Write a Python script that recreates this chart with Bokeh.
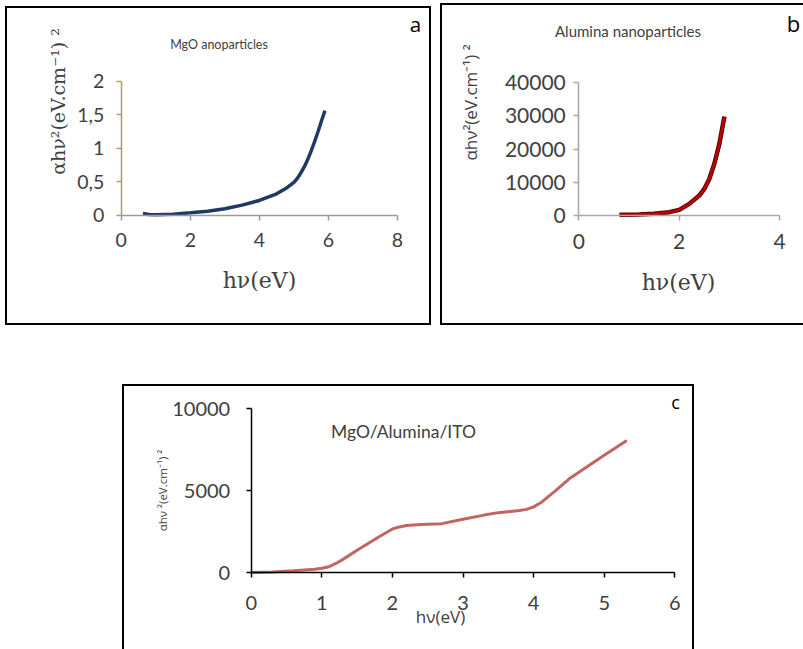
from math import pi

from bokeh.embed import file_html
from bokeh.layouts import column, row
from bokeh.models import FixedTicker, Label, Range1d
from bokeh.plotting import figure
from bokeh.resources import INLINE

# (a) MgO nanoparticles: (alpha h nu)^2 versus photon energy
mgo_x = [0.63, 0.8, 1.0, 1.5, 2.0, 2.5, 3.0, 3.5, 4.0, 4.5, 4.8, 5.0, 5.1, 5.2, 5.3, 5.4,
         5.5, 5.6, 5.7, 5.8, 5.9]
mgo_y = [0.025, 0.012, 0.008, 0.015, 0.035, 0.06, 0.095, 0.15, 0.22, 0.32, 0.41, 0.49, 0.55,
         0.63, 0.72, 0.83, 0.96, 1.1, 1.25, 1.41, 1.56]
mgo_xticks = [0, 2, 4, 6, 8]
mgo_yticks = [0, 0.5, 1, 1.5, 2]
mgo_ylabels = ["0", "0,5", "1", "1,5", "2"]

# (b) Alumina nanoparticles
alu_x = [0.81, 1.0, 1.2, 1.5, 1.8, 2.0, 2.2, 2.4, 2.5, 2.6, 2.7, 2.8, 2.9]
alu_y = [200, 220, 300, 500, 1000, 1700, 3500, 6000, 8000, 11000, 15600, 21600, 29800]
alu_xticks = [0, 2, 4]
alu_yticks = [0, 10000, 20000, 30000, 40000]

# (c) MgO/Alumina/ITO film
film_x = [0, 0.3, 0.6, 0.9, 1.0, 1.1, 1.2, 1.3, 1.5, 1.8, 2.0, 2.1, 2.2, 2.4, 2.7, 3.0,
          3.3, 3.5, 3.8, 3.9, 4.0, 4.1, 4.2, 4.3, 4.5, 5.0, 5.32]
film_y = [0, 30, 100, 200, 260, 350, 550, 800, 1360, 2150, 2650, 2780, 2860, 2920, 2980, 3250,
          3500, 3650, 3780, 3850, 4000, 4250, 4600, 4950, 5700, 7150, 8050]
film_xticks = [0, 1, 2, 3, 4, 5, 6]
film_yticks = [0, 5000, 10000]

SANS = "Open Sans"
DIGITS = "Lato"
SERIF = "DejaVu Serif"
INK = "#404040"
BOX = "2px solid black"


class Panel:
    """A bordered chart whose frame fills the canvas; axes cross at the origin.

    origin: page pixel of data (0, 0); scale: pixels per data unit (x, y);
    canvas: page pixel of the canvas top-left corner.
    """

    def __init__(self, width, height, canvas, origin, scale, xbounds, ybounds, borders):
        cx, cy = canvas
        ox, oy = origin
        sx, sy = scale
        self.origin, self.scale = origin, scale
        xr = Range1d(-(ox - cx) / sx, (width - (ox - cx)) / sx)
        yr = Range1d((oy - cy - height) / sy, (oy - cy) / sy)
        p = figure(width=width, height=height, x_range=xr, y_range=yr,
                   output_backend="svg", toolbar_location=None,
                   min_border=0, min_border_left=0, min_border_right=0,
                   min_border_top=0, min_border_bottom=0)
        p.title.visible = False
        p.xgrid.visible = False
        p.ygrid.visible = False
        p.outline_line_color = None
        p.background_fill_color = "white"
        p.border_fill_color = "white"
        p.styles = borders
        p.xaxis.fixed_location = 0
        p.yaxis.fixed_location = 0
        p.xaxis.bounds = xbounds
        p.yaxis.bounds = ybounds
        for ax in (p.xaxis[0], p.yaxis[0]):
            ax.major_tick_in = 0
            ax.major_tick_out = 5
            ax.minor_tick_in = 0
            ax.minor_tick_out = 0
            ax.major_label_text_font = DIGITS
            ax.major_label_text_color = INK
            ax.axis_line_width = 1.5
            ax.major_tick_line_width = 1.5
        self.p = p

    def text(self, gx, gy, text, size, font=SANS, angle=0.0, color=INK):
        # gx, gy: page pixel of the text centre
        ox, oy = self.origin
        sx, sy = self.scale
        self.p.add_layout(Label(x=(gx - ox) / sx, y=(oy - gy) / sy, text=text,
                                text_font=font, text_font_size=size, text_color=color,
                                text_align="center", text_baseline="middle", angle=angle))


# ---- panel a ----
A = Panel(426, 319, (7, 8), (120.7, 214.7), (34.54, 67.0), (0, 8), (0, 2),
          {"border": BOX})
pa = A.p
pa.margin = (6, 0, 0, 5)
pa.line(mgo_x, mgo_y, line_color="#1f3864", line_width=3.5)
pa.xaxis.ticker = FixedTicker(ticks=mgo_xticks, minor_ticks=[])
pa.yaxis.ticker = FixedTicker(ticks=mgo_yticks, minor_ticks=[])
pa.yaxis.major_label_overrides = {t: s for t, s in zip(mgo_yticks, mgo_ylabels)}
pa.xaxis.axis_line_color = "#9a9a9a"
pa.xaxis.major_tick_line_color = "#9a9a9a"
pa.yaxis.axis_line_color = "#a99f6a"
pa.yaxis.major_tick_line_color = "#a99f6a"
for ax in (pa.xaxis[0], pa.yaxis[0]):
    ax.major_label_text_font_size = "19.5px"
pa.xaxis.major_label_standoff = 13
pa.yaxis.major_label_standoff = 12
A.text(218.5, 44, "MgO anoparticles", "12.5px", font=DIGITS)
A.text(415, 23, "a", "20.5px", color="black")
A.text(57, 101, "αhν²(eV.cm⁻¹) ²", "19px", font=SERIF, angle=pi / 2)
A.text(259, 280, "hν(eV)", "22px", font=SERIF)

# ---- panel b ----
B = Panel(363, 322, (442, 5), (578.3, 215.0), (50.2, 132.7 / 40000), (0, 4), (0, 40000),
          {"border-left": BOX, "border-top": BOX, "border-bottom": BOX})
pb = B.p
pb.margin = (3, 0, 0, 9)
pb.line(alu_x, alu_y, line_color="#5a0000", line_width=4.5)
pb.line(alu_x, alu_y, line_color="#c00000", line_width=2.5)
pb.xaxis.ticker = FixedTicker(ticks=alu_xticks, minor_ticks=[])
pb.yaxis.ticker = FixedTicker(ticks=alu_yticks, minor_ticks=[])
for ax in (pb.xaxis[0], pb.yaxis[0]):
    ax.axis_line_color = "#a6a6a6"
    ax.major_tick_line_color = "#a6a6a6"
    ax.major_label_text_font_size = "21px"
pb.xaxis.major_label_standoff = 13
pb.yaxis.major_label_standoff = 8
B.text(627.5, 30, "Alumina nanoparticles", "15px", font=DIGITS)
B.text(793, 22, "b", "22px", color="black")
B.text(470, 102, "αhν²(eV.cm⁻¹) ²", "17px", angle=pi / 2)
B.text(678, 282, "hν(eV)", "22px", font=SERIF)

# ---- panel c ----
C = Panel(572, 265, (124, 386), (250.7, 572.0), (70.6, 0.0164), (0, 6), (0, 10000),
          {"border-left": BOX, "border-top": BOX, "border-right": BOX})
pc = C.p
pc.margin = (59, 0, 0, 122)
pc.line(film_x, film_y, line_color="#c46462", line_width=3)
pc.xaxis.ticker = FixedTicker(ticks=film_xticks, minor_ticks=[])
pc.yaxis.ticker = FixedTicker(ticks=film_yticks, minor_ticks=[])
for ax in (pc.xaxis[0], pc.yaxis[0]):
    ax.axis_line_color = "black"
    ax.major_tick_line_color = "black"
    ax.major_label_text_font_size = "20px"
pc.xaxis.major_label_standoff = 18
pc.yaxis.major_label_standoff = 16
C.text(403, 431, "MgO/Alumina/ITO", "17.5px", font=DIGITS)
C.text(675, 401, "c", "18px", color="black")
C.text(162, 490, "αhν ²(eV.cm⁻¹) ²", "11.5px", angle=pi / 2)
C.text(440, 616, "hν(eV)", "17px")

layout = column(row(pa, pb), pc)
open("out.html", "w").write(file_html(layout, INLINE))
